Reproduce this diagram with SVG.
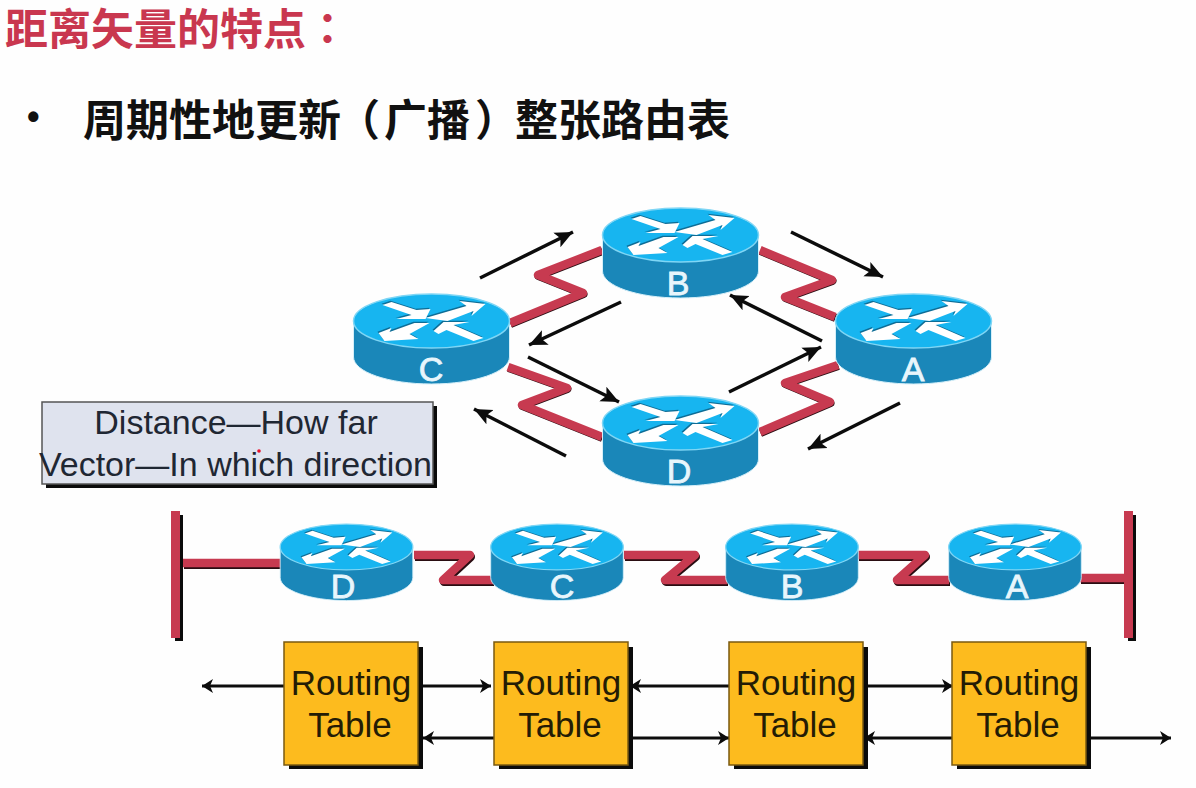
<svg xmlns="http://www.w3.org/2000/svg" xmlns:xlink="http://www.w3.org/1999/xlink" width="1196" height="788" viewBox="0 0 1196 788">
<style>
text{font-family:"Liberation Sans","Noto Sans CJK TC",sans-serif}
.cjk{font-family:"Liberation Sans","Noto Sans CJK SC",sans-serif;font-weight:700;font-size:43px}
.p{font-family:"Liberation Sans","Noto Sans CJK TC",sans-serif}
.rl{font-size:34px;fill:#e8f6fc;stroke:#e8f6fc;stroke-width:.8;text-anchor:middle}
.tt{font-size:35px;fill:#241c05;text-anchor:middle}
.bt{font-size:34px;fill:#1f2733;text-anchor:middle}
.box{fill:#fdbb1e;stroke:#7a5a10;stroke-width:1.5}
.sh{fill:#0b0b0b}
.z{fill:none;stroke:#c73a50;stroke-width:8.500;stroke-linejoin:round;stroke-linecap:butt}
.zs{fill:none;stroke:#2a0d12;stroke-width:8;stroke-linejoin:round;stroke-linecap:butt}
.a{fill:none;stroke:#0c0c0c;stroke-width:3.500;marker-end:url(#d)}
.t{fill:none;stroke:#0c0c0c;stroke-width:3;marker-end:url(#h)}
</style>
<defs>
<marker id="d" markerUnits="userSpaceOnUse" markerWidth="20" markerHeight="18" refX="18" refY="9" orient="auto"><path d="M0 1L18 9L0 17L4 9Z" fill="#0c0c0c"/></marker>
<marker id="h" markerUnits="userSpaceOnUse" markerWidth="16" markerHeight="16" refX="14" refY="8" orient="auto"><path d="M3 1L14 8L3 15L6 8Z" fill="#0c0c0c"/></marker>
<g id="glyphs">
<path d="M-49-19L-40-22L-15-14L-1-15L-6-5L-35-5L-20-9Z"/>
<path d="M54-20L28-23L35-18L-6-6L16-3L42-13L40-8Z"/>
<path d="M-53 9L-40 4L-42 8L-17-1L-2-1L-22 10L-13 15L-47 17Z"/>
<path d="M2 7L12-2L38-2L22 1L52 14L42 17L15 6L7 10Z"/>
</g>
<g id="router">
<path d="M-78 0V36C-78 51-43 63 0 63S78 51 78 36V0Z" fill="#1a87b9" stroke="#d5eff9" stroke-width="1"/>
<ellipse rx="78" ry="27" fill="#17b5f0" stroke="#7fd6f5" stroke-width="1.5"/>
<use href="#glyphs" fill="#0e6d96" transform="translate(-1 1.8)"/>
<use href="#glyphs" fill="#fff" transform="translate(0 3)"/>
</g>
</defs>
<rect width="1196" height="788" fill="#fefefe"/>

<g id="title">
<text class="cjk" x="5" y="45" fill="#c9374f">距离矢量的特点<tspan class="p" x="306">：</tspan></text>
</g>
<g id="bullet">
<text x="27" y="129" font-size="36" font-weight="700" fill="#111">•</text>
<text class="cjk" x="83" y="136" fill="#111">周期性地更新<tspan class="p" dx="-4">（</tspan><tspan dx="4">广播</tspan><tspan class="p" dx="5">）</tspan><tspan dx="-3">整张路由表</tspan></text>
</g>

<g id="connectors">
<g transform="translate(.5 1)">
<path class="zs" d="M510 323L583 293L538 275L602 250"/>
<path class="zs" d="M508 367L567 388L522 405L602 437"/>
<path class="zs" d="M760 250L832 280L785 297L835 317"/>
<path class="zs" d="M760 432L830 402L785 383L838 365"/>
</g>
<path class="z" d="M510 323L583 293L538 275L602 250"/>
<path class="z" d="M508 367L567 388L522 405L602 437"/>
<path class="z" d="M760 250L832 280L785 297L835 317"/>
<path class="z" d="M760 432L830 402L785 383L838 365"/>
<path class="a" d="M480 278L573 232"/>
<path class="a" d="M621 302L529 345"/>
<path class="a" d="M528 357L619 402"/>
<path class="a" d="M566 456L474 409"/>
<path class="a" d="M791 232L883 277"/>
<path class="a" d="M822 341L730 295"/>
<path class="a" d="M729 392L821 347"/>
<path class="a" d="M900 403L808 449"/>
<g transform="translate(1 2)">
<path class="zs" d="M183 563H282"/>
<path class="zs" d="M414 555H470L443 580H493"/>
<path class="zs" d="M624 555H695L665 580H727"/>
<path class="zs" d="M858 555H925L897 580H949"/>
<path class="zs" d="M1080 578H1127"/>
</g>
<path class="z" d="M183 563H282"/>
<path class="z" d="M414 555H470L443 580H493"/>
<path class="z" d="M624 555H695L665 580H727"/>
<path class="z" d="M858 555H925L897 580H949"/>
<path class="z" d="M1080 578H1127"/>
<rect class="sh" x="175" y="515" width="8" height="126"/>
<rect x="171" y="511" width="9" height="127" fill="#c73a50"/>
<rect class="sh" x="1128" y="515" width="8" height="126"/>
<rect x="1124" y="511" width="9" height="127" fill="#c73a50"/>
<path class="t" d="M284 686H202"/>
<path class="t" d="M423 686H491"/>
<path class="t" d="M729 686H630"/>
<path class="t" d="M868 686H953"/>
<path class="t" d="M494 738H423"/>
<path class="t" d="M633 738H729"/>
<path class="t" d="M952 738H864"/>
<path class="t" d="M1091 738H1171"/>
</g>

<g id="router-B"><use href="#router" x="680.500" y="235"/><text class="rl" x="678" y="295">B</text></g>
<g id="router-C"><use href="#router" x="431.500" y="321"/><text class="rl" x="431" y="381">C</text></g>
<g id="router-A"><use href="#router" x="913.500" y="321"/><text class="rl" x="913" y="381">A</text></g>
<g id="router-D"><use href="#router" x="680.500" y="423"/><text class="rl" x="679" y="483">D</text></g>

<g id="router-D2"><use href="#router" transform="translate(346.500 547) scale(.85)"/><text class="rl" x="343" y="598">D</text></g>
<g id="router-C2"><use href="#router" transform="translate(557 547) scale(.85)"/><text class="rl" x="562" y="598">C</text></g>
<g id="router-B2"><use href="#router" transform="translate(792 547) scale(.85)"/><text class="rl" x="792" y="598">B</text></g>
<g id="router-A2"><use href="#router" transform="translate(1015 547) scale(.85)"/><text class="rl" x="1017" y="598">A</text></g>

<g id="legend">
<rect class="sh" x="46" y="406" width="391" height="82"/>
<rect x="42" y="402" width="391" height="82" fill="#dfe3ee" stroke="#555" stroke-width="1.5"/>
<text class="bt" x="236" y="434">Distance—How far</text>
<text class="bt" x="235.500" y="476">Vector—In which direction</text>
<circle cx="259" cy="451" r="1.8" fill="#e8102a"/>
</g>

<g id="table-D"><rect class="sh" x="289" y="647" width="134" height="122"/><rect class="box" x="284" y="642" width="134" height="123"/><text class="tt" x="351" y="695">Routing</text><text class="tt" x="350" y="737">Table</text></g>
<g id="table-C"><rect class="sh" x="499" y="647" width="134" height="122"/><rect class="box" x="494" y="642" width="134" height="123"/><text class="tt" x="561" y="695">Routing</text><text class="tt" x="560" y="737">Table</text></g>
<g id="table-B"><rect class="sh" x="734" y="647" width="134" height="122"/><rect class="box" x="729" y="642" width="134" height="123"/><text class="tt" x="796" y="695">Routing</text><text class="tt" x="795" y="737">Table</text></g>
<g id="table-A"><rect class="sh" x="957" y="647" width="134" height="122"/><rect class="box" x="952" y="642" width="134" height="123"/><text class="tt" x="1019" y="695">Routing</text><text class="tt" x="1018" y="737">Table</text></g>
</svg>
